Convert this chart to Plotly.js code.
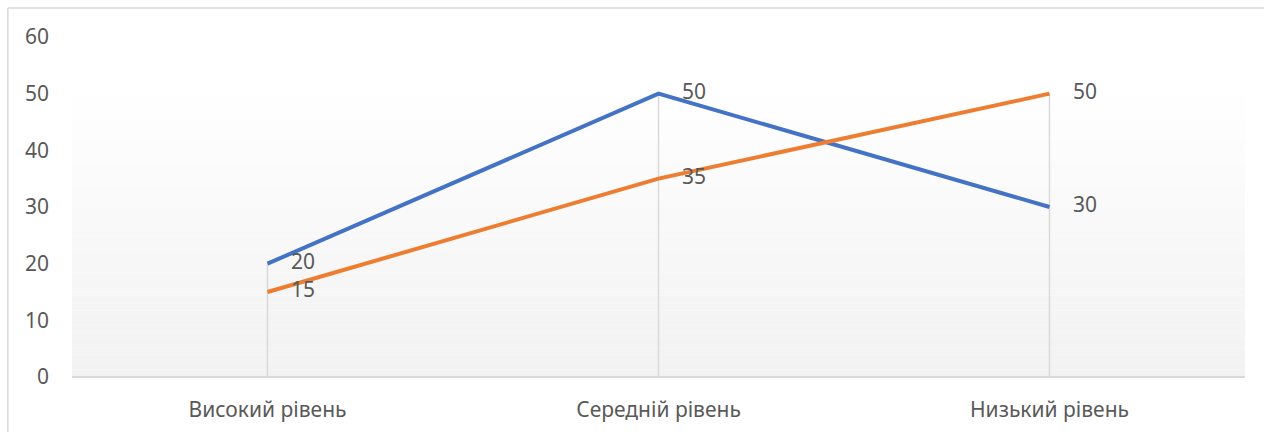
<!DOCTYPE html>
<html>
<head>
<meta charset="utf-8">
<script src="https://cdn.plot.ly/plotly-3.0.1.min.js"></script>
<style>html,body{margin:0;padding:0;background:#fff;}#chart{width:1264px;height:432px;}</style>
</head>
<body>
<div id="chart"></div>
<script>
const categories = ["Високий рівень", "Середній рівень", "Низький рівень"];
const series1 = [20, 50, 30];
const series2 = [15, 35, 50];
const yTicks = [0, 10, 20, 30, 40, 50, 60];

const FONT = "Noto Sans, Open Sans, sans-serif";
const TXT = "#595959";

// drop lines from highest point to axis, built from data
const dropX = [], dropY = [];
categories.forEach((c, i) => {
  dropX.push(c, c, null);
  dropY.push(Math.max(series1[i], series2[i]), 0, null);
});

const hiddenMarker = {size: 36, color: "rgba(0,0,0,0)", line: {width: 0}};
const traces = [
  {x: dropX, y: dropY, mode: "lines", line: {color: "#d9d9d9", width: 1.5}, hoverinfo: "skip", showlegend: false},
  {x: categories, y: series1, mode: "lines+markers+text", text: series1.map(String), textposition: "middle right",
   marker: hiddenMarker, textfont: {family: FONT, size: 21, color: TXT}, line: {color: "#4472C4", width: 4}, showlegend: false, cliponaxis: false},
  {x: categories, y: series2, mode: "lines+markers+text", text: series2.map(String), textposition: "middle right",
   marker: hiddenMarker, textfont: {family: FONT, size: 21, color: TXT}, line: {color: "#ED7D31", width: 4}, showlegend: false, cliponaxis: false}
];

// gradient background (style only)
const shapes = [];
const NSTEP = 40, gradTop = 0.868;
for (let k = 0; k < NSTEP; k++) {
  const f = (k + 0.5) / NSTEP; // 0 bottom -> 1 top
  const v = Math.round(242 + (255 - 242) * f);
  shapes.push({type: "rect", xref: "paper", yref: "paper", x0: 0, x1: 1,
    y0: gradTop * k / NSTEP, y1: gradTop * (k + 1) / NSTEP, fillcolor: `rgb(${v},${v},${v})`, line: {width: 0}, layer: "below"});
}
// chart border (top and left)
shapes.push({type: "line", xref: "paper", yref: "paper", x0: -0.0547, x1: 1.1, y0: 1.0853, y1: 1.0853, line: {color: "#d9d9d9", width: 1.5}});
shapes.push({type: "line", xref: "paper", yref: "paper", x0: -0.0547, x1: -0.0547, y0: -0.3, y1: 1.0853, line: {color: "#d9d9d9", width: 1.5}});

const layout = {
  width: 1264, height: 432,
  margin: {l: 72, r: 19, t: 37, b: 55},
  paper_bgcolor: "#ffffff", plot_bgcolor: "rgba(0,0,0,0)",
  showlegend: false,
  xaxis: {type: "category", range: [-0.5, 2.5], showgrid: false, zeroline: false,
    showline: false, ticks: "", tickfont: {family: FONT, size: 21, color: TXT}, ticklabelstandoff: 18},
  yaxis: {range: [0, 60], tickvals: yTicks, showgrid: false, zeroline: true, zerolinecolor: "#d9d9d9", zerolinewidth: 1.5,
    showline: false, ticks: "", tickfont: {family: FONT, size: 21, color: TXT}, ticklabelstandoff: 22},
  shapes: shapes
};

Plotly.newPlot("chart", traces, layout, {displayModeBar: false, staticPlot: true});
</script>
</body>
</html>
